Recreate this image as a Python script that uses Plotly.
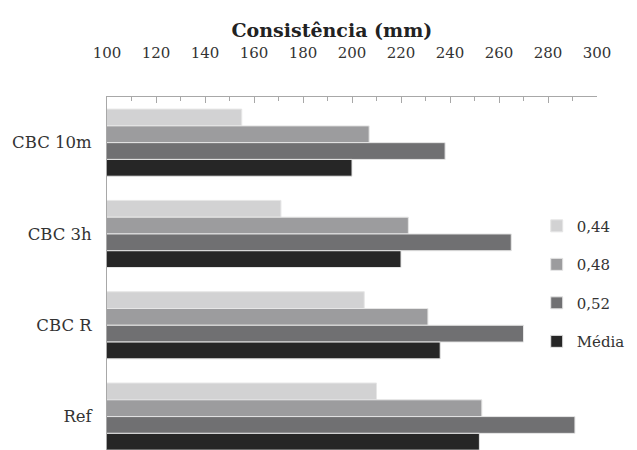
import plotly.graph_objects as go

# Consistency (mm) per mix and water/cement ratio
categories = ["CBC 10m", "CBC 3h", "CBC R", "Ref"]
series_names = ["0,44", "0,48", "0,52", "Média"]
values_044 = [155, 171, 205, 210]
values_048 = [207, 223, 231, 253]
values_052 = [238, 265, 270, 291]
values_media = [200, 220, 236, 252]
x_ticks = [100, 120, 140, 160, 180, 200, 220, 240, 260, 280, 300]

series_values = [values_044, values_048, values_052, values_media]
colors = ["#d2d2d3", "#9c9c9e", "#707072", "#262626"]

FONT = "DejaVu Serif"

fig = go.Figure()
for i, (name, vals, col) in enumerate(zip(series_names, series_values, colors)):
    fig.add_trace(go.Bar(
        y=categories,
        x=vals,
        base=0,
        name=name,
        orientation="h",
        legendgroup=f"g{i}",
        marker=dict(color=col, line=dict(color="#e6e6e6", width=1)),
    ))

fig.update_layout(
    width=637,
    height=450,
    margin=dict(l=107, r=40, t=97, b=0, autoexpand=False),
    paper_bgcolor="white",
    plot_bgcolor="white",
    barmode="group",
    bargap=0.265,
    bargroupgap=0,
    font=dict(family=FONT, size=16, color="#333333"),
    title=dict(
        text="<b>Consistência (mm)</b>",
        x=0.521, xanchor="center", xref="container",
        y=0.933, yanchor="middle", yref="container",
        font=dict(family=FONT, size=19, color="#222222"),
    ),
    xaxis=dict(
        side="top",
        range=[100, 300],
        tickvals=x_ticks,
        ticktext=[str(v) for v in x_ticks],
        showgrid=False,
        zeroline=False,
        showline=True,
        linecolor="#a8a8a8",
        linewidth=1,
        ticks="inside",
        ticklen=6,
        tickcolor="#a8a8a8",
        ticklabelstandoff=32,
        minor=dict(ticks="inside", ticklen=4, dtick=10, tickcolor="#a8a8a8"),
        tickfont=dict(family=FONT, size=15, color="#333333"),
    ),
    yaxis=dict(
        range=[3.366, -0.5],
        showgrid=False,
        zeroline=False,
        showline=True,
        linecolor="#a8a8a8",
        linewidth=1,
        ticks="",
        ticklabelstandoff=11,
        tickfont=dict(family=FONT, size=16.5, color="#333333"),
    ),
    legend=dict(
        x=0.877, xanchor="left",
        y=0.681, yanchor="top",
        traceorder="grouped",
        tracegroupgap=16,
        itemwidth=30,
        bgcolor="rgba(0,0,0,0)",
        font=dict(family=FONT, size=15, color="#333333"),
    ),
)

fig.write_html("out.html")
